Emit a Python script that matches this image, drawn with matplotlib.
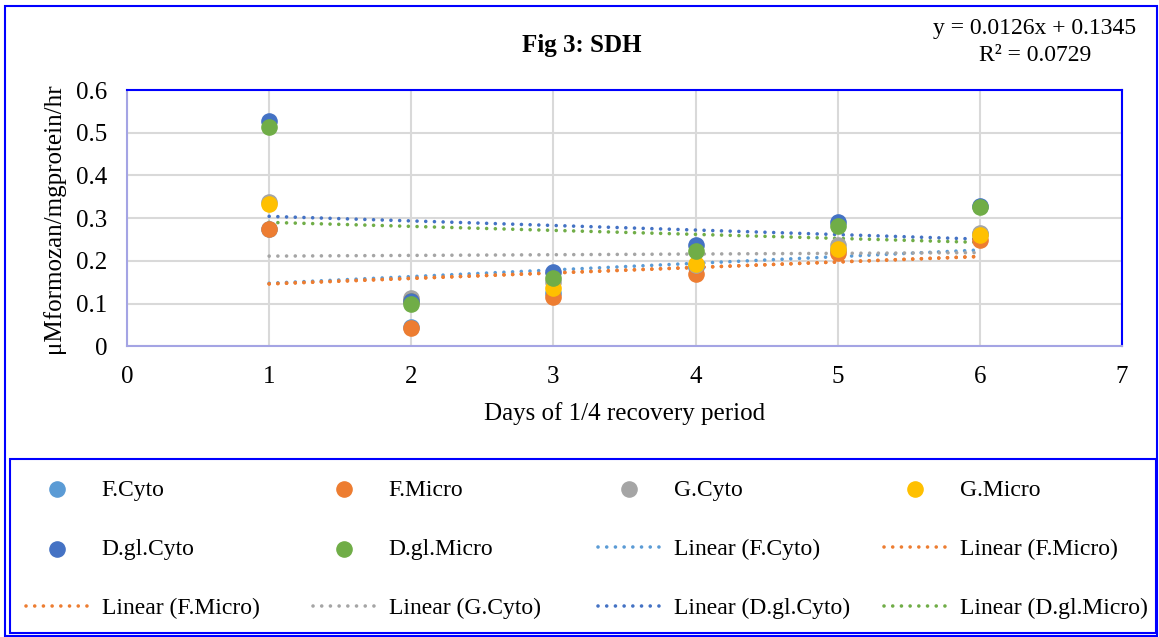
import numpy as np
import matplotlib.pyplot as plt
from matplotlib.patches import Rectangle
from matplotlib.ticker import FuncFormatter

plt.rcParams['font.family'] = ['Liberation Serif', 'DejaVu Serif']

# Days of recovery period
days = [1, 2, 3, 4, 5, 6]

# activity values (uM formozan / mg protein / hr)
f_cyto = [0.275, 0.045, 0.125, 0.185, 0.225, 0.264]
f_micro = [0.275, 0.043, 0.115, 0.169, 0.218, 0.249]
g_cyto = [0.337, 0.112, 0.150, 0.190, 0.236, 0.266]
g_micro = [0.333, 0.107, 0.136, 0.193, 0.228, 0.261]
dgl_cyto = [0.528, 0.105, 0.175, 0.236, 0.292, 0.329]
dgl_micro = [0.513, 0.099, 0.159, 0.222, 0.282, 0.325]

series = [
    ('F.Cyto', f_cyto, '#5B9BD5'),
    ('F.Micro', f_micro, '#ED7D31'),
    ('G.Cyto', g_cyto, '#A5A5A5'),
    ('G.Micro', g_micro, '#FFC000'),
    ('D.gl.Cyto', dgl_cyto, '#4472C4'),
    ('D.gl.Micro', dgl_micro, '#70AD47'),
]
# trendlines shown in the legend (F.Micro appears twice in the original)
trend_names = ['F.Cyto', 'F.Micro', 'F.Micro', 'G.Cyto', 'D.gl.Cyto', 'D.gl.Micro']

fig = plt.figure(figsize=(11.59, 6.37), dpi=100)
ax = fig.add_axes([0.1096, 0.4564, 0.8584, 0.4023])

handles = []
for name, vals, col in series:
    h = ax.scatter(days, vals, s=120, color=col, zorder=3, label=name)
    handles.append(h)

lookup = {name: (vals, col) for name, vals, col in series}
x = np.array(days, dtype=float)
for name in trend_names:
    vals, col = lookup[name]
    m, b = np.polyfit(x, vals, 1)
    xx = np.array([x.min(), x.max()])
    ln, = ax.plot(xx, m * xx + b, color=col, lw=2.6,
                  linestyle=(0, (0.01, 2.4)), dash_capstyle='round',
                  zorder=2, label='Linear (%s)' % name)
    handles.append(ln)

ax.set_xlim(0, 7)
ax.set_ylim(0, 0.6)
ax.set_xticks(range(0, 8))
ax.set_yticks(np.arange(0, 0.61, 0.1))
ax.yaxis.set_major_formatter(FuncFormatter(lambda v, p: '%g' % round(v, 1)))
ax.grid(True, color='#D9D9D9', lw=1.5)
ax.set_axisbelow(True)
ax.tick_params(length=0, labelsize=18)
ax.tick_params(axis='x', pad=14)
ax.tick_params(axis='y', pad=14)
for s in ['top', 'right']:
    ax.spines[s].set_color('#0000FF')
    ax.spines[s].set_linewidth(1.5)
for s in ['left', 'bottom']:
    ax.spines[s].set_color('#A4A4E4')
    ax.spines[s].set_linewidth(1.5)

ax.set_xlabel('Days of 1/4 recovery period', fontsize=18, labelpad=10)
ax.set_ylabel('\u03bcMformozan/mgprotein/hr', fontsize=18, labelpad=8)

fig.text(0.502, 0.928, 'Fig 3: SDH', ha='center', va='center',
         fontsize=18, fontweight='bold')
fig.text(0.893, 0.956, 'y = 0.0126x + 0.1345', ha='center', va='center', fontsize=17)
fig.text(0.893, 0.913, 'R\u00b2 = 0.0729', ha='center', va='center', fontsize=17)

# outer chart frame and legend frame
fig.patches.append(Rectangle((0.0045, 0.002), 0.994, 0.989, transform=fig.transFigure,
                             fill=False, edgecolor='#0000FF', lw=1.5))
fig.patches.append(Rectangle((0.0085, 0.006), 0.9885, 0.2735, transform=fig.transFigure,
                             fill=False, edgecolor='#0000FF', lw=1.5))

# legend: 4 columns filled row by row, one legend per column
ncol = 4
col_x = [26, 313, 598, 884]
for c in range(ncol):
    items = handles[c::ncol]
    leg = fig.legend(handles=items, labels=[h.get_label() for h in items],
                     loc='upper left', bbox_to_anchor=(col_x[c] / 1159, 1 - 479 / 637),
                     frameon=False, fontsize=17, borderpad=0, borderaxespad=0,
                     handlelength=2.6, handletextpad=0.6, labelspacing=1.6,
                     scatterpoints=1)

fig.savefig('out.png', dpi=100)
